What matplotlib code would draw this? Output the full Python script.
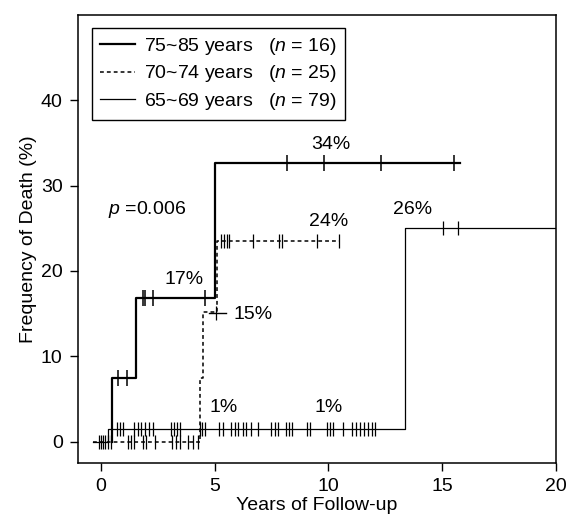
import matplotlib.pyplot as plt
import numpy as np

plt.rcParams['font.family'] = ['Liberation Sans', 'DejaVu Sans']
plt.rcParams['mathtext.fontset'] = 'custom'
plt.rcParams['mathtext.it'] = 'Liberation Sans:italic'
plt.rcParams['mathtext.rm'] = 'Liberation Sans'

# step curves: start time, event times with level after each event, end time
old_start, old_end = 0.48, 15.8
old_t = [0.48, 1.55, 5.04]
old_y = [7.4, 16.8, 32.6]
mid_start, mid_end = -0.35, 10.5
mid_t = [4.38, 4.48, 5.1]
mid_y = [7.5, 15.2, 23.5]
young_start, young_end = -0.35, 20.0
young_t = [0.3, 13.35]
young_y = [1.5, 25.0]

# censored observations
cens_old_t = [0.75, 1.14, 1.85, 1.93, 2.28, 4.56, 8.2, 9.8, 12.3, 15.5]
cens_old_y = [7.4, 7.4, 16.8, 16.8, 16.8, 16.8, 32.6, 32.6, 32.6, 32.6]
cens_mid_t = [-0.1, 0.0, 0.1, 0.2, 0.32, 0.44, 1.2, 1.32, 1.45, 1.84, 1.97, 2.4,
              3.15, 3.32, 3.5, 3.85, 4.05, 4.25, 5.05,
              5.3, 5.42, 5.54, 5.65, 6.7, 7.85, 7.98, 9.5, 10.45]
cens_mid_y = [0.0] * 18 + [15.1] + [23.5] * 9
cens_young_t = [0.70, 0.83, 0.96, 1.45, 1.62, 1.78, 1.95, 2.12, 2.28,
                3.07, 3.2, 3.35, 3.5, 4.36, 4.46, 4.56, 5.2, 5.35,
                5.7, 5.88, 6.05, 6.23, 6.4, 6.6, 6.9, 7.5, 7.65, 7.8,
                8.15, 8.28, 8.4, 9.07, 9.2, 9.96, 10.08, 10.2, 10.66,
                11.05, 11.22, 11.39, 11.56, 11.73, 11.9, 12.06, 15.05, 15.7]
cens_young_y = [1.5] * 44 + [25.0, 25.0]

labels = ['75~85 years   ($n$ = 16)', '70~74 years   ($n$ = 25)',
          '65~69 years   ($n$ = 79)']


def km_xy(start, t, y, end):
    xs = [start] + list(t) + [end]
    ys = [0.0] + list(y) + [y[-1]]
    return xs, ys


fig = plt.figure(figsize=(5.67, 5.18), dpi=100)
ax = fig.add_axes([0.1376, 0.1062, 0.843, 0.865])

x, y = km_xy(old_start, old_t, old_y, old_end)
ax.step(x, y, where='post', color='black', lw=1.6, label=labels[0])
x, y = km_xy(mid_start, mid_t, mid_y, mid_end)
ax.step(x, y, where='post', color='black', lw=1.1, ls=(0, (2.5, 2)), label=labels[1])
x, y = km_xy(young_start, young_t, young_y, young_end)
ax.step(x, y, where='post', color='black', lw=0.9, label=labels[2])

ax.plot(cens_old_t, cens_old_y, ls='none', marker='|', ms=12, mew=1.1, color='black')
ax.plot(cens_mid_t, cens_mid_y, ls='none', marker='|', ms=10, mew=0.9, color='black')
ax.plot(cens_young_t, cens_young_y, ls='none', marker='|', ms=10, mew=0.9, color='black')
# the lone "+" at 15%
ax.plot([4.75, 5.5], [15.1, 15.1], color='black', lw=1.0)

fs = 14
ax.text(10.1, 33.8, '34%', ha='center', va='bottom', fontsize=fs)
ax.text(10.0, 24.8, '24%', ha='center', va='bottom', fontsize=fs)
ax.text(13.7, 26.2, '26%', ha='center', va='bottom', fontsize=fs)
ax.text(3.64, 18.0, '17%', ha='center', va='bottom', fontsize=fs)
ax.text(5.85, 14.9, '15%', ha='left', va='center', fontsize=fs)
ax.text(5.4, 3.0, '1%', ha='center', va='bottom', fontsize=fs)
ax.text(10.0, 3.0, '1%', ha='center', va='bottom', fontsize=fs)
ax.text(0.3, 27.2, '$p$ =0.006', ha='left', va='center', fontsize=fs)

ax.set_xlim(-1, 20)
ax.set_ylim(-2.5, 50)
ax.set_xticks([0, 5, 10, 15, 20])
ax.set_yticks([0, 10, 20, 30, 40])
ax.tick_params(direction='out', length=6, width=1, labelsize=fs, pad=5)
ax.set_xlabel('Years of Follow-up', fontsize=fs, labelpad=1)
ax.set_ylabel('Frequency of Death (%)', fontsize=fs, labelpad=3)
for s in ax.spines.values():
    s.set_linewidth(1.1)

leg = ax.legend(loc='upper left', bbox_to_anchor=(0.029, 0.971), borderaxespad=0,
                fancybox=False, edgecolor='black', framealpha=1, fontsize=fs,
                handlelength=1.8, handletextpad=0.5, labelspacing=0.35,
                borderpad=0.4)
leg.get_frame().set_linewidth(1.0)

fig.savefig('out.png', dpi=100)
